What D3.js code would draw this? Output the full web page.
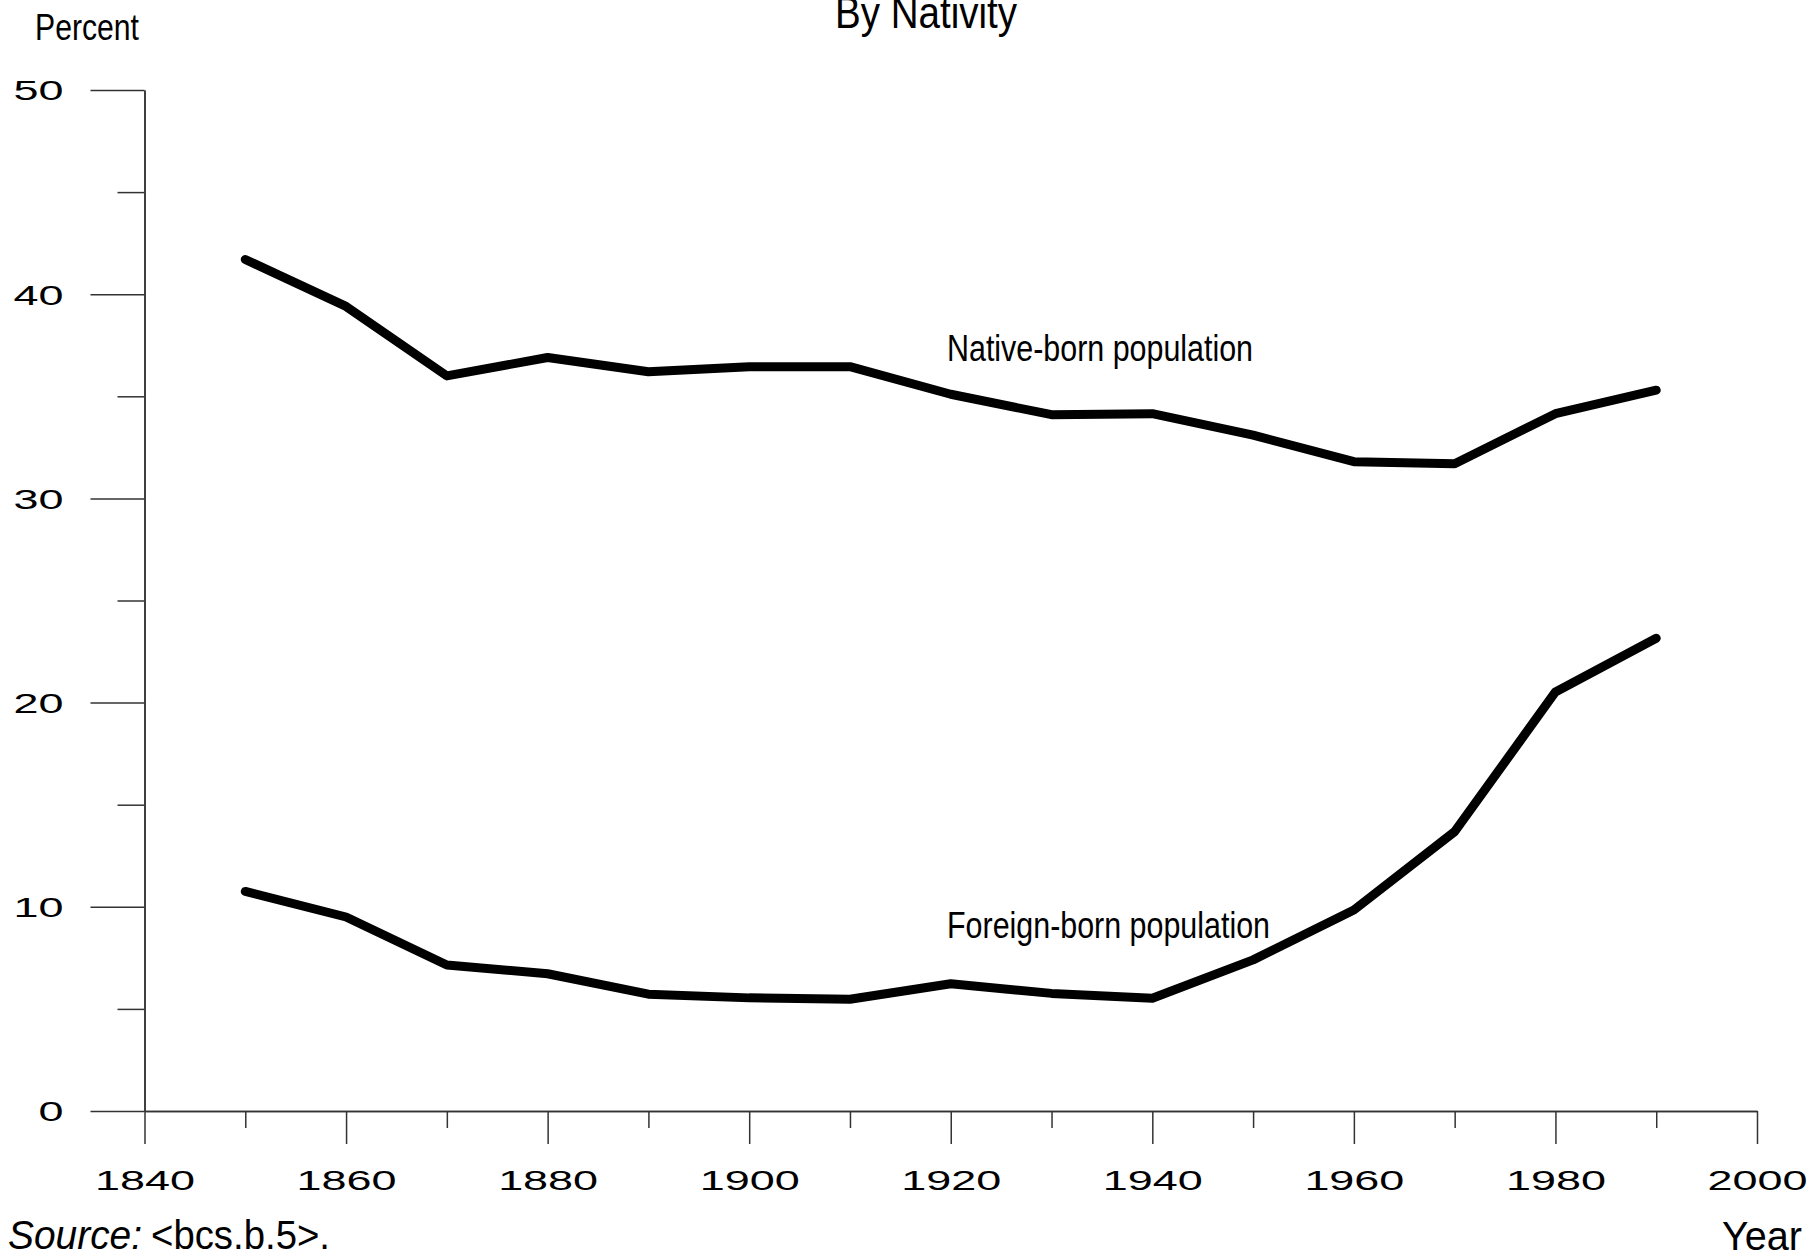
<!DOCTYPE html>
<html>
<head>
<meta charset="utf-8">
<script src="https://cdn.jsdelivr.net/npm/d3@7"></script>
<style>
  html, body { margin: 0; padding: 0; background: #fff; }
  svg { display: block; }
</style>
</head>
<body>
<svg id="chart" width="1811" height="1259"></svg>
<script>
const years = [1850, 1860, 1870, 1880, 1890, 1900, 1910, 1920, 1930, 1940, 1950, 1960, 1970, 1980, 1990];
const nativeBorn = [41.7, 39.4, 36.0, 36.9, 36.2, 36.45, 36.45, 35.1, 34.1, 34.15, 33.1, 31.8, 31.7, 34.15, 35.3];
const foreignBorn = [10.75, 9.5, 7.15, 6.72, 5.72, 5.54, 5.47, 6.23, 5.76, 5.52, 7.4, 9.84, 13.68, 20.52, 23.15];
const yMajorTicks = [0, 10, 20, 30, 40, 50];
const yMinorTicks = [5, 15, 25, 35, 45];
const xMajorTicks = [1840, 1860, 1880, 1900, 1920, 1940, 1960, 1980, 2000];
const xMinorTicks = [1850, 1870, 1890, 1910, 1930, 1950, 1970, 1990];
const seriesLabels = ["Native-born population", "Foreign-born population"];
const titleText = "By Nativity";
const yAxisTitle = "Percent";
const xAxisTitle = "Year";
const sourceLabel = "Source:";
const sourceText = "<bcs.b.5>.";

const svg = d3.select("#chart");
const x = d3.scaleLinear().domain([1840, 2000]).range([144.5, 1757]);
const y = d3.scaleLinear().domain([0, 50]).range([1111, 90]);

const axisColor = "#333";
const numFont = "'Liberation Sans', Arial, sans-serif";
const narrowFont = "'Liberation Sans Narrow', 'Arial Narrow', 'Liberation Sans', Arial, sans-serif";

function styleAxis(g) {
  g.selectAll("path.domain").attr("stroke", axisColor).attr("stroke-width", 1.5);
  g.selectAll(".tick line").attr("stroke", axisColor).attr("stroke-width", 1.5);
}

// Y axis minor
const gyMinor = svg.append("g").attr("transform", `translate(${x(1840)},0)`)
  .call(d3.axisLeft(y).tickValues(yMinorTicks).tickSize(27).tickSizeOuter(0).tickFormat(""));
styleAxis(gyMinor);
// Y axis major
const gy = svg.append("g").attr("transform", `translate(${x(1840)},0)`)
  .call(d3.axisLeft(y).tickValues(yMajorTicks).tickSize(54).tickSizeOuter(0).tickPadding(27));
styleAxis(gy);
gy.selectAll(".tick text")
  .attr("font-family", numFont).attr("font-size", 28).attr("fill", "#000")
  .attr("dy", "0.35em")
  .attr("textLength", d => String(d).length * 25)
  .attr("lengthAdjust", "spacingAndGlyphs");

// X axis minor
const gxMinor = svg.append("g").attr("transform", `translate(0,${y(0)})`)
  .call(d3.axisBottom(x).tickValues(xMinorTicks).tickSize(17).tickSizeOuter(0).tickFormat(""));
styleAxis(gxMinor);
// X axis major
const gx = svg.append("g").attr("transform", `translate(0,${y(0)})`)
  .call(d3.axisBottom(x).tickValues(xMajorTicks).tickSize(33).tickSizeOuter(0).tickPadding(0).tickFormat(d3.format("d")));
styleAxis(gx);
gx.selectAll(".tick text")
  .attr("font-family", numFont).attr("font-size", 28).attr("fill", "#000")
  .attr("dy", null).attr("y", 79)
  .attr("textLength", d => String(d).length * 25)
  .attr("lengthAdjust", "spacingAndGlyphs");

// Lines
const line = d3.line().x((d, i) => x(years[i])).y(d => y(d));
[nativeBorn, foreignBorn].forEach(series => {
  svg.append("path")
    .datum(series)
    .attr("d", line)
    .attr("fill", "none")
    .attr("stroke", "#000")
    .attr("stroke-width", 9)
    .attr("stroke-linecap", "round")
    .attr("stroke-linejoin", "round");
});

function addText(txt, xPos, yPos, size, len, opts = {}) {
  const t = svg.append("text")
    .attr("x", xPos).attr("y", yPos)
    .attr("font-family", opts.family || narrowFont)
    .attr("font-size", size)
    .attr("fill", "#000")
    .attr("text-anchor", opts.anchor || "start")
    .text(txt);
  if (opts.italic) t.attr("font-style", "italic");
  if (len) t.attr("textLength", len).attr("lengthAdjust", "spacingAndGlyphs");
  return t;
}

// Series labels
addText(seriesLabels[0], 947, 361, 37, 306);
addText(seriesLabels[1], 947, 938, 37, 323);

// Titles
addText(titleText, 926, 28, 44, 182, { anchor: "middle" });
addText(yAxisTitle, 35, 40, 37, 104);
addText(xAxisTitle, 1802, 1250, 40, 80, { anchor: "end" });
addText(sourceLabel, 8, 1249, 40, 134, { italic: true });
addText(sourceText, 151, 1249, 40, 179);
</script>
</body>
</html>
